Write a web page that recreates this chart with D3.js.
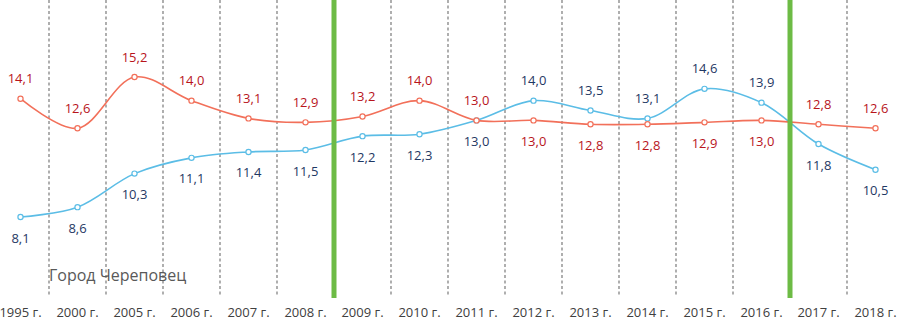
<!DOCTYPE html>
<html>
<head>
<meta charset="utf-8">
<script src="https://cdn.jsdelivr.net/npm/d3@7"></script>
<style>
    body { margin: 0; background: #fff; }
    svg { display: block; font-family: "Open Sans", sans-serif; }
</style>
</head>
<body>
<div id="chart"></div>
<script>
// years on the x axis
const years = ["1995 г.", "2000 г.", "2005 г.", "2006 г.", "2007 г.", "2008 г.", "2009 г.", "2010 г.",
    "2011 г.", "2012 г.", "2013 г.", "2014 г.", "2015 г.", "2016 г.", "2017 г.", "2018 г."];

// red series
const redValues = [14.1, 12.6, 15.2, 14.0, 13.1, 12.9, 13.2, 14.0, 13.0, 13.0, 12.8, 12.8, 12.9, 13.0, 12.8, 12.6];
// blue series
const blueValues = [8.1, 8.6, 10.3, 11.1, 11.4, 11.5, 12.2, 12.3, 13.0, 14.0, 13.5, 13.1, 14.6, 13.9, 11.8, 10.5];

// which labels go above the point (true) or below (false)
const redAbove = [true, true, true, true, true, true, true, true, true, false, false, false, false, false, true, true];
const blueAbove = [false, false, false, false, false, false, false, false, false, true, true, true, true, true, false, false];

// boundaries that get the thick green line
const greenAfter = ["2008 г.", "2016 г."];

const chartTitle = "Город Череповец";

const width = 898, height = 322;

const svg = d3.select("#chart").append("svg")
    .attr("width", width)
    .attr("height", height);

const x = d3.scaleBand()
    .domain(years)
    .range([-8, 904])
    .padding(0);

const y = d3.scaleLinear()
    .domain([8.1, 15.2])
    .range([217, 77]);

const cx = d => x(d) + x.bandwidth() / 2;

// dashed separators between the years
const bounds = years.slice(0, -1);
svg.append("g").selectAll("line")
    .data(bounds.filter(d => !greenAfter.includes(d)))
    .enter().append("line")
    .attr("x1", d => x(d) + x.bandwidth())
    .attr("x2", d => x(d) + x.bandwidth())
    .attr("y1", 0)
    .attr("y2", 295)
    .attr("stroke", "#7a7a7a")
    .attr("stroke-width", 1.2)
    .attr("stroke-dasharray", "3,2.5");

// series lines
const line = d3.line()
    .x((d, i) => cx(years[i]))
    .y(d => y(d))
    .curve(d3.curveCatmullRom.alpha(0.5));

const series = [
    {values: blueValues, color: "#5bbde6", text: "#1f3864", above: blueAbove},
    {values: redValues, color: "#f2705a", text: "#b8141c", above: redAbove}
];

series.forEach(s => {
    svg.append("path")
        .datum(s.values)
        .attr("fill", "none")
        .attr("stroke", s.color)
        .attr("stroke-width", 1.6)
        .attr("d", line);

    svg.append("g").selectAll("circle")
        .data(s.values)
        .enter().append("circle")
        .attr("cx", (d, i) => cx(years[i]))
        .attr("cy", d => y(d))
        .attr("r", 2.6)
        .attr("fill", "#fff")
        .attr("stroke", s.color)
        .attr("stroke-width", 1.2);
});

// thick green separators on top
svg.append("g").selectAll("line")
    .data(greenAfter)
    .enter().append("line")
    .attr("x1", d => x(d) + x.bandwidth())
    .attr("x2", d => x(d) + x.bandwidth())
    .attr("y1", 0)
    .attr("y2", 298)
    .attr("stroke", "#6dbb45")
    .attr("stroke-width", 5);

// value labels
series.forEach(s => {
    svg.append("g").selectAll("text")
        .data(s.values)
        .enter().append("text")
        .attr("x", (d, i) => cx(years[i]))
        .attr("y", (d, i) => y(d) + (s.above[i] ? -20 : 21))
        .attr("dy", "0.35em")
        .attr("text-anchor", "middle")
        .attr("font-size", 13)
        .attr("fill", s.text)
        .text(d => d3.format(".1f")(d).replace(".", ","));
});

// x axis labels
svg.append("g").selectAll("text")
    .data(years)
    .enter().append("text")
    .attr("x", d => cx(d))
    .attr("y", 317)
    .attr("text-anchor", "middle")
    .attr("font-size", 13)
    .attr("fill", "#404040")
    .text(d => d);

svg.append("text")
    .attr("x", 49)
    .attr("y", 275)
    .attr("dy", "0.35em")
    .attr("font-size", 16)
    .attr("fill", "#595959")
    .text(chartTitle);
</script>
</body>
</html>
